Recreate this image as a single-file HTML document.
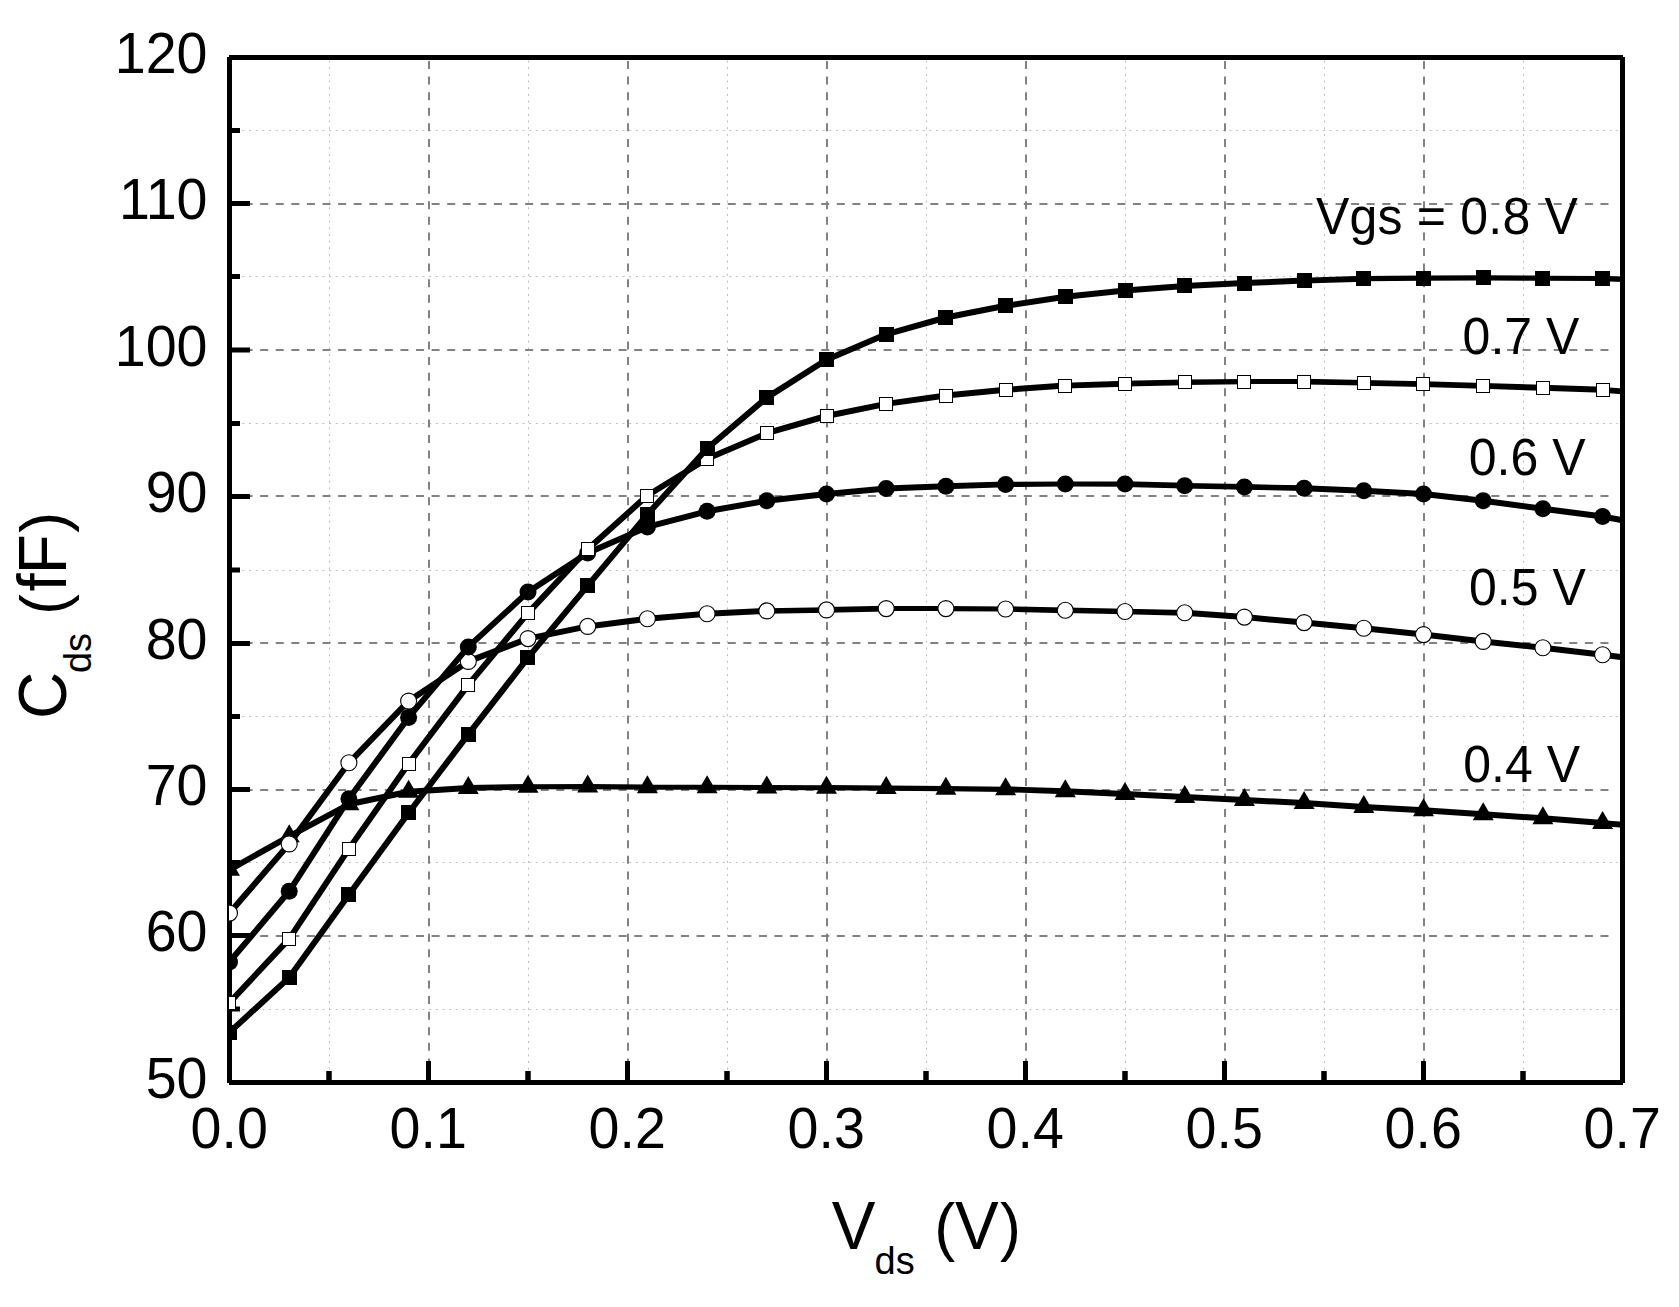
<!DOCTYPE html>
<html lang="en"><head><meta charset="utf-8"><title>Cds vs Vds</title>
<style>
html,body{margin:0;padding:0;background:#fff;}
body{width:1679px;height:1307px;overflow:hidden;}
svg{display:block;}
text{font-family:"Liberation Sans",sans-serif;fill:#000;}
.tk{font-size:55.6px;}
.lb{font-size:50px;}
.tt{font-size:65.5px;}
.sb{font-size:38px;}
.pr{font-size:62.9px;}
</style></head><body>
<svg width="1679" height="1307" viewBox="0 0 1679 1307">
<rect x="0" y="0" width="1679" height="1307" fill="#fff"/>
<defs><clipPath id="plot"><rect x="229.0" y="57.5" width="1394.0" height="1025.0"/></clipPath></defs>
<g id="grid-minor" stroke="#bebebe" stroke-width="1" stroke-dasharray="2 4.67" fill="none">
<line x1="329.5" y1="1083" x2="329.5" y2="60"/>
<line x1="528.5" y1="1083" x2="528.5" y2="60"/>
<line x1="727.5" y1="1083" x2="727.5" y2="60"/>
<line x1="926.5" y1="1083" x2="926.5" y2="60"/>
<line x1="1125.5" y1="1083" x2="1125.5" y2="60"/>
<line x1="1324.5" y1="1083" x2="1324.5" y2="60"/>
<line x1="1523.5" y1="1083" x2="1523.5" y2="60"/>
<line x1="229" y1="1009.5" x2="1618" y2="1009.5"/>
<line x1="229" y1="862.5" x2="1618" y2="862.5"/>
<line x1="229" y1="716.5" x2="1618" y2="716.5"/>
<line x1="229" y1="570.5" x2="1618" y2="570.5"/>
<line x1="229" y1="423.5" x2="1618" y2="423.5"/>
<line x1="229" y1="276.5" x2="1618" y2="276.5"/>
<line x1="229" y1="130.5" x2="1618" y2="130.5"/>
</g>
<g id="grid-major" stroke="#828282" stroke-width="2" stroke-dasharray="8 7.585" fill="none">
<line x1="429" y1="1082" x2="429" y2="60"/>
<line x1="628" y1="1082" x2="628" y2="60"/>
<line x1="827" y1="1082" x2="827" y2="60"/>
<line x1="1026" y1="1082" x2="1026" y2="60"/>
<line x1="1225" y1="1082" x2="1225" y2="60"/>
<line x1="1424" y1="1082" x2="1424" y2="60"/>
<line x1="229" y1="936" x2="1612" y2="936"/>
<line x1="229" y1="790" x2="1612" y2="790"/>
<line x1="229" y1="643" x2="1612" y2="643"/>
<line x1="229" y1="496" x2="1612" y2="496"/>
<line x1="229" y1="350" x2="1612" y2="350"/>
<line x1="229" y1="204" x2="1612" y2="204"/>
</g>
<g id="axes" fill="#000">
<rect x="229" y="55" width="1394" height="5"/>
<rect x="229" y="1080" width="1394" height="5"/>
<rect x="227" y="57" width="5" height="1026"/>
<rect x="1620" y="57" width="5" height="1026"/>
<rect x="426" y="1061" width="5" height="20"/>
<rect x="625" y="1061" width="5" height="20"/>
<rect x="824" y="1061" width="5" height="20"/>
<rect x="1023" y="1061" width="5" height="20"/>
<rect x="1222" y="1061" width="5" height="20"/>
<rect x="1421" y="1061" width="5" height="20"/>
<rect x="326.25" y="1071" width="5.5" height="10"/>
<rect x="525.25" y="1071" width="5.5" height="10"/>
<rect x="724.25" y="1071" width="5.5" height="10"/>
<rect x="923.25" y="1071" width="5.5" height="10"/>
<rect x="1122.25" y="1071" width="5.5" height="10"/>
<rect x="1321.25" y="1071" width="5.5" height="10"/>
<rect x="1520.25" y="1071" width="5.5" height="10"/>
<rect x="231" y="933" width="19" height="5"/>
<rect x="231" y="787" width="19" height="5"/>
<rect x="231" y="641" width="19" height="5"/>
<rect x="231" y="494" width="19" height="5"/>
<rect x="231" y="347.5" width="19" height="5"/>
<rect x="231" y="201" width="19" height="5"/>
<rect x="231" y="1006.5" width="9" height="5"/>
<rect x="231" y="860" width="9" height="5"/>
<rect x="231" y="714" width="9" height="5"/>
<rect x="231" y="567.5" width="9" height="5"/>
<rect x="231" y="421" width="9" height="5"/>
<rect x="231" y="274" width="9" height="5"/>
<rect x="231" y="128" width="9" height="5"/>
</g>
<g id="curves" clip-path="url(#plot)">
<g id="s-0p4"><g fill="none" stroke="#000" stroke-linecap="round"><line x1="229.5" y1="869.8" x2="289.2" y2="836.3" stroke-width="6.00"/><line x1="289.2" y1="836.3" x2="348.9" y2="804.3" stroke-width="6.00"/><line x1="348.9" y1="804.3" x2="408.6" y2="791.8" stroke-width="6.00"/><line x1="408.6" y1="791.8" x2="468.3" y2="787.9" stroke-width="6.00"/><line x1="468.3" y1="787.9" x2="528.0" y2="786.8" stroke-width="5.59"/><line x1="528.0" y1="786.8" x2="587.7" y2="786.6" stroke-width="5.07"/><line x1="587.7" y1="786.6" x2="647.4" y2="787.2" stroke-width="5.29"/><line x1="647.4" y1="787.2" x2="707.1" y2="787.2" stroke-width="5.00"/><line x1="707.1" y1="787.2" x2="766.8" y2="787.5" stroke-width="5.15"/><line x1="766.8" y1="787.5" x2="826.5" y2="787.7" stroke-width="5.07"/><line x1="826.5" y1="787.7" x2="886.2" y2="788.1" stroke-width="5.22"/><line x1="886.2" y1="788.1" x2="945.9" y2="788.7" stroke-width="5.29"/><line x1="945.9" y1="788.7" x2="1005.6" y2="789.3" stroke-width="5.29"/><line x1="1005.6" y1="789.3" x2="1065.3" y2="791.2" stroke-width="5.95"/><line x1="1065.3" y1="791.2" x2="1125.0" y2="794.1" stroke-width="6.00"/><line x1="1125.0" y1="794.1" x2="1184.7" y2="797.0" stroke-width="6.00"/><line x1="1184.7" y1="797.0" x2="1244.4" y2="800.1" stroke-width="6.00"/><line x1="1244.4" y1="800.1" x2="1304.1" y2="803.0" stroke-width="6.00"/><line x1="1304.1" y1="803.0" x2="1363.8" y2="807.0" stroke-width="6.00"/><line x1="1363.8" y1="807.0" x2="1423.5" y2="810.2" stroke-width="6.00"/><line x1="1423.5" y1="810.2" x2="1483.2" y2="814.2" stroke-width="6.00"/><line x1="1483.2" y1="814.2" x2="1542.9" y2="818.3" stroke-width="6.00"/><line x1="1542.9" y1="818.3" x2="1602.6" y2="823.1" stroke-width="6.00"/><line x1="1602.6" y1="823.1" x2="1622.5" y2="824.8" stroke-width="5.88"/></g><polygon points="229.5,857.8 219.0,875.8 240.0,875.8" fill="#000"/><polygon points="289.2,824.3 278.7,842.3 299.7,842.3" fill="#000"/><polygon points="348.9,792.3 338.4,810.3 359.4,810.3" fill="#000"/><polygon points="408.6,779.8 398.1,797.8 419.1,797.8" fill="#000"/><polygon points="468.3,775.9 457.8,793.9 478.8,793.9" fill="#000"/><polygon points="528.0,774.8 517.5,792.8 538.5,792.8" fill="#000"/><polygon points="587.7,774.6 577.2,792.6 598.2,792.6" fill="#000"/><polygon points="647.4,775.2 636.9,793.2 657.9,793.2" fill="#000"/><polygon points="707.1,775.2 696.6,793.2 717.6,793.2" fill="#000"/><polygon points="766.8,775.5 756.3,793.5 777.3,793.5" fill="#000"/><polygon points="826.5,775.7 816.0,793.7 837.0,793.7" fill="#000"/><polygon points="886.2,776.1 875.7,794.1 896.7,794.1" fill="#000"/><polygon points="945.9,776.7 935.4,794.7 956.4,794.7" fill="#000"/><polygon points="1005.6,777.3 995.1,795.3 1016.1,795.3" fill="#000"/><polygon points="1065.3,779.2 1054.8,797.2 1075.8,797.2" fill="#000"/><polygon points="1125.0,782.1 1114.5,800.1 1135.5,800.1" fill="#000"/><polygon points="1184.7,785.0 1174.2,803.0 1195.2,803.0" fill="#000"/><polygon points="1244.4,788.1 1233.9,806.1 1254.9,806.1" fill="#000"/><polygon points="1304.1,791.0 1293.6,809.0 1314.6,809.0" fill="#000"/><polygon points="1363.8,795.0 1353.3,813.0 1374.3,813.0" fill="#000"/><polygon points="1423.5,798.2 1413.0,816.2 1434.0,816.2" fill="#000"/><polygon points="1483.2,802.2 1472.7,820.2 1493.7,820.2" fill="#000"/><polygon points="1542.9,806.3 1532.4,824.3 1553.4,824.3" fill="#000"/><polygon points="1602.6,811.1 1592.1,829.1 1613.1,829.1" fill="#000"/></g>
<g id="s-0p5"><g fill="none" stroke="#000" stroke-linecap="round"><line x1="229.5" y1="913.1" x2="289.2" y2="843.9" stroke-width="6.00"/><line x1="289.2" y1="843.9" x2="348.9" y2="762.8" stroke-width="6.00"/><line x1="348.9" y1="762.8" x2="408.6" y2="701.1" stroke-width="6.00"/><line x1="408.6" y1="701.1" x2="468.3" y2="661.4" stroke-width="6.00"/><line x1="468.3" y1="661.4" x2="528.0" y2="638.6" stroke-width="6.00"/><line x1="528.0" y1="638.6" x2="587.7" y2="626.4" stroke-width="6.00"/><line x1="587.7" y1="626.4" x2="647.4" y2="618.8" stroke-width="6.00"/><line x1="647.4" y1="618.8" x2="707.1" y2="613.7" stroke-width="6.00"/><line x1="707.1" y1="613.7" x2="766.8" y2="610.9" stroke-width="6.00"/><line x1="766.8" y1="610.9" x2="826.5" y2="609.9" stroke-width="5.51"/><line x1="826.5" y1="609.9" x2="886.2" y2="608.6" stroke-width="5.66"/><line x1="886.2" y1="608.6" x2="945.9" y2="608.6" stroke-width="5.00"/><line x1="945.9" y1="608.6" x2="1005.6" y2="609.0" stroke-width="5.22"/><line x1="1005.6" y1="609.0" x2="1065.3" y2="610.3" stroke-width="5.66"/><line x1="1065.3" y1="610.3" x2="1125.0" y2="611.5" stroke-width="5.59"/><line x1="1125.0" y1="611.5" x2="1184.7" y2="612.8" stroke-width="5.66"/><line x1="1184.7" y1="612.8" x2="1244.4" y2="617.1" stroke-width="6.00"/><line x1="1244.4" y1="617.1" x2="1304.1" y2="622.6" stroke-width="6.00"/><line x1="1304.1" y1="622.6" x2="1363.8" y2="628.2" stroke-width="6.00"/><line x1="1363.8" y1="628.2" x2="1423.5" y2="634.6" stroke-width="6.00"/><line x1="1423.5" y1="634.6" x2="1483.2" y2="641.4" stroke-width="6.00"/><line x1="1483.2" y1="641.4" x2="1542.9" y2="647.7" stroke-width="6.00"/><line x1="1542.9" y1="647.7" x2="1602.6" y2="654.8" stroke-width="6.00"/><line x1="1602.6" y1="654.8" x2="1622.5" y2="657.3" stroke-width="6.00"/></g><circle cx="229.5" cy="913.1" r="8" fill="#fff" stroke="#000" stroke-width="1.1"/><circle cx="289.2" cy="843.9" r="8" fill="#fff" stroke="#000" stroke-width="1.1"/><circle cx="348.9" cy="762.8" r="8" fill="#fff" stroke="#000" stroke-width="1.1"/><circle cx="408.6" cy="701.1" r="8" fill="#fff" stroke="#000" stroke-width="1.1"/><circle cx="468.3" cy="661.4" r="8" fill="#fff" stroke="#000" stroke-width="1.1"/><circle cx="528.0" cy="638.6" r="8" fill="#fff" stroke="#000" stroke-width="1.1"/><circle cx="587.7" cy="626.4" r="8" fill="#fff" stroke="#000" stroke-width="1.1"/><circle cx="647.4" cy="618.8" r="8" fill="#fff" stroke="#000" stroke-width="1.1"/><circle cx="707.1" cy="613.7" r="8" fill="#fff" stroke="#000" stroke-width="1.1"/><circle cx="766.8" cy="610.9" r="8" fill="#fff" stroke="#000" stroke-width="1.1"/><circle cx="826.5" cy="609.9" r="8" fill="#fff" stroke="#000" stroke-width="1.1"/><circle cx="886.2" cy="608.6" r="8" fill="#fff" stroke="#000" stroke-width="1.1"/><circle cx="945.9" cy="608.6" r="8" fill="#fff" stroke="#000" stroke-width="1.1"/><circle cx="1005.6" cy="609.0" r="8" fill="#fff" stroke="#000" stroke-width="1.1"/><circle cx="1065.3" cy="610.3" r="8" fill="#fff" stroke="#000" stroke-width="1.1"/><circle cx="1125.0" cy="611.5" r="8" fill="#fff" stroke="#000" stroke-width="1.1"/><circle cx="1184.7" cy="612.8" r="8" fill="#fff" stroke="#000" stroke-width="1.1"/><circle cx="1244.4" cy="617.1" r="8" fill="#fff" stroke="#000" stroke-width="1.1"/><circle cx="1304.1" cy="622.6" r="8" fill="#fff" stroke="#000" stroke-width="1.1"/><circle cx="1363.8" cy="628.2" r="8" fill="#fff" stroke="#000" stroke-width="1.1"/><circle cx="1423.5" cy="634.6" r="8" fill="#fff" stroke="#000" stroke-width="1.1"/><circle cx="1483.2" cy="641.4" r="8" fill="#fff" stroke="#000" stroke-width="1.1"/><circle cx="1542.9" cy="647.7" r="8" fill="#fff" stroke="#000" stroke-width="1.1"/><circle cx="1602.6" cy="654.8" r="8" fill="#fff" stroke="#000" stroke-width="1.1"/></g>
<g id="s-0p6"><g fill="none" stroke="#000" stroke-linecap="round"><line x1="229.5" y1="961.9" x2="289.2" y2="891.3" stroke-width="6.00"/><line x1="289.2" y1="891.3" x2="348.9" y2="798.8" stroke-width="6.00"/><line x1="348.9" y1="798.8" x2="408.6" y2="717.4" stroke-width="6.00"/><line x1="408.6" y1="717.4" x2="468.3" y2="646.9" stroke-width="6.00"/><line x1="468.3" y1="646.9" x2="528.0" y2="591.9" stroke-width="6.00"/><line x1="528.0" y1="591.9" x2="587.7" y2="552.9" stroke-width="6.00"/><line x1="587.7" y1="552.9" x2="647.4" y2="526.9" stroke-width="6.00"/><line x1="647.4" y1="526.9" x2="707.1" y2="511.3" stroke-width="6.00"/><line x1="707.1" y1="511.3" x2="766.8" y2="500.7" stroke-width="6.00"/><line x1="766.8" y1="500.7" x2="826.5" y2="493.9" stroke-width="6.00"/><line x1="826.5" y1="493.9" x2="886.2" y2="488.6" stroke-width="6.00"/><line x1="886.2" y1="488.6" x2="945.9" y2="486.2" stroke-width="6.00"/><line x1="945.9" y1="486.2" x2="1005.6" y2="484.4" stroke-width="5.88"/><line x1="1005.6" y1="484.4" x2="1065.3" y2="484.0" stroke-width="5.22"/><line x1="1065.3" y1="484.0" x2="1125.0" y2="484.1" stroke-width="5.07"/><line x1="1125.0" y1="484.1" x2="1184.7" y2="485.7" stroke-width="5.81"/><line x1="1184.7" y1="485.7" x2="1244.4" y2="486.9" stroke-width="5.59"/><line x1="1244.4" y1="486.9" x2="1304.1" y2="488.2" stroke-width="5.66"/><line x1="1304.1" y1="488.2" x2="1363.8" y2="490.7" stroke-width="6.00"/><line x1="1363.8" y1="490.7" x2="1423.5" y2="493.9" stroke-width="6.00"/><line x1="1423.5" y1="493.9" x2="1483.2" y2="500.7" stroke-width="6.00"/><line x1="1483.2" y1="500.7" x2="1542.9" y2="508.7" stroke-width="6.00"/><line x1="1542.9" y1="508.7" x2="1602.6" y2="516.5" stroke-width="6.00"/><line x1="1602.6" y1="516.5" x2="1622.5" y2="520.3" stroke-width="6.00"/></g><circle cx="229.5" cy="961.9" r="8.5" fill="#000"/><circle cx="289.2" cy="891.3" r="8.5" fill="#000"/><circle cx="348.9" cy="798.8" r="8.5" fill="#000"/><circle cx="408.6" cy="717.4" r="8.5" fill="#000"/><circle cx="468.3" cy="646.9" r="8.5" fill="#000"/><circle cx="528.0" cy="591.9" r="8.5" fill="#000"/><circle cx="587.7" cy="552.9" r="8.5" fill="#000"/><circle cx="647.4" cy="526.9" r="8.5" fill="#000"/><circle cx="707.1" cy="511.3" r="8.5" fill="#000"/><circle cx="766.8" cy="500.7" r="8.5" fill="#000"/><circle cx="826.5" cy="493.9" r="8.5" fill="#000"/><circle cx="886.2" cy="488.6" r="8.5" fill="#000"/><circle cx="945.9" cy="486.2" r="8.5" fill="#000"/><circle cx="1005.6" cy="484.4" r="8.5" fill="#000"/><circle cx="1065.3" cy="484.0" r="8.5" fill="#000"/><circle cx="1125.0" cy="484.1" r="8.5" fill="#000"/><circle cx="1184.7" cy="485.7" r="8.5" fill="#000"/><circle cx="1244.4" cy="486.9" r="8.5" fill="#000"/><circle cx="1304.1" cy="488.2" r="8.5" fill="#000"/><circle cx="1363.8" cy="490.7" r="8.5" fill="#000"/><circle cx="1423.5" cy="493.9" r="8.5" fill="#000"/><circle cx="1483.2" cy="500.7" r="8.5" fill="#000"/><circle cx="1542.9" cy="508.7" r="8.5" fill="#000"/><circle cx="1602.6" cy="516.5" r="8.5" fill="#000"/></g>
<g id="s-0p7"><g fill="none" stroke="#000" stroke-linecap="round"><line x1="229.5" y1="1002.6" x2="289.2" y2="938.9" stroke-width="6.00"/><line x1="289.2" y1="938.9" x2="348.9" y2="848.9" stroke-width="6.00"/><line x1="348.9" y1="848.9" x2="408.6" y2="763.8" stroke-width="6.00"/><line x1="408.6" y1="763.8" x2="468.3" y2="684.9" stroke-width="6.00"/><line x1="468.3" y1="684.9" x2="528.0" y2="613.1" stroke-width="6.00"/><line x1="528.0" y1="613.1" x2="587.7" y2="549.3" stroke-width="6.00"/><line x1="587.7" y1="549.3" x2="647.4" y2="495.5" stroke-width="6.00"/><line x1="647.4" y1="495.5" x2="707.1" y2="458.8" stroke-width="6.00"/><line x1="707.1" y1="458.8" x2="766.8" y2="433.2" stroke-width="6.00"/><line x1="766.8" y1="433.2" x2="826.5" y2="416.0" stroke-width="6.00"/><line x1="826.5" y1="416.0" x2="886.2" y2="403.9" stroke-width="6.00"/><line x1="886.2" y1="403.9" x2="945.9" y2="395.5" stroke-width="6.00"/><line x1="945.9" y1="395.5" x2="1005.6" y2="389.8" stroke-width="6.00"/><line x1="1005.6" y1="389.8" x2="1065.3" y2="385.6" stroke-width="6.00"/><line x1="1065.3" y1="385.6" x2="1125.0" y2="383.7" stroke-width="5.95"/><line x1="1125.0" y1="383.7" x2="1184.7" y2="382.3" stroke-width="5.66"/><line x1="1184.7" y1="382.3" x2="1244.4" y2="381.6" stroke-width="5.37"/><line x1="1244.4" y1="381.6" x2="1304.1" y2="381.6" stroke-width="5.00"/><line x1="1304.1" y1="381.6" x2="1363.8" y2="382.8" stroke-width="5.59"/><line x1="1363.8" y1="382.8" x2="1423.5" y2="384.1" stroke-width="5.66"/><line x1="1423.5" y1="384.1" x2="1483.2" y2="385.9" stroke-width="5.88"/><line x1="1483.2" y1="385.9" x2="1542.9" y2="387.8" stroke-width="5.95"/><line x1="1542.9" y1="387.8" x2="1602.6" y2="389.8" stroke-width="6.00"/><line x1="1602.6" y1="389.8" x2="1622.5" y2="391.3" stroke-width="5.73"/></g><rect x="222.5" y="996.5" width="13" height="13" fill="#fff" stroke="#000" stroke-width="1"/><rect x="282.5" y="932.5" width="13" height="13" fill="#fff" stroke="#000" stroke-width="1"/><rect x="342.5" y="842.5" width="13" height="13" fill="#fff" stroke="#000" stroke-width="1"/><rect x="402.5" y="757.5" width="13" height="13" fill="#fff" stroke="#000" stroke-width="1"/><rect x="461.5" y="678.5" width="13" height="13" fill="#fff" stroke="#000" stroke-width="1"/><rect x="521.5" y="606.5" width="13" height="13" fill="#fff" stroke="#000" stroke-width="1"/><rect x="581.5" y="542.5" width="13" height="13" fill="#fff" stroke="#000" stroke-width="1"/><rect x="640.5" y="489.5" width="13" height="13" fill="#fff" stroke="#000" stroke-width="1"/><rect x="700.5" y="452.5" width="13" height="13" fill="#fff" stroke="#000" stroke-width="1"/><rect x="760.5" y="426.5" width="13" height="13" fill="#fff" stroke="#000" stroke-width="1"/><rect x="820.5" y="409.5" width="13" height="13" fill="#fff" stroke="#000" stroke-width="1"/><rect x="879.5" y="397.5" width="13" height="13" fill="#fff" stroke="#000" stroke-width="1"/><rect x="939.5" y="389.5" width="13" height="13" fill="#fff" stroke="#000" stroke-width="1"/><rect x="999.5" y="383.5" width="13" height="13" fill="#fff" stroke="#000" stroke-width="1"/><rect x="1058.5" y="379.5" width="13" height="13" fill="#fff" stroke="#000" stroke-width="1"/><rect x="1118.5" y="377.5" width="13" height="13" fill="#fff" stroke="#000" stroke-width="1"/><rect x="1178.5" y="375.5" width="13" height="13" fill="#fff" stroke="#000" stroke-width="1"/><rect x="1237.5" y="375.5" width="13" height="13" fill="#fff" stroke="#000" stroke-width="1"/><rect x="1297.5" y="375.5" width="13" height="13" fill="#fff" stroke="#000" stroke-width="1"/><rect x="1357.5" y="376.5" width="13" height="13" fill="#fff" stroke="#000" stroke-width="1"/><rect x="1416.5" y="377.5" width="13" height="13" fill="#fff" stroke="#000" stroke-width="1"/><rect x="1476.5" y="379.5" width="13" height="13" fill="#fff" stroke="#000" stroke-width="1"/><rect x="1536.5" y="381.5" width="13" height="13" fill="#fff" stroke="#000" stroke-width="1"/><rect x="1596.5" y="383.5" width="13" height="13" fill="#fff" stroke="#000" stroke-width="1"/></g>
<g id="s-0p8"><g fill="none" stroke="#000" stroke-linecap="round"><line x1="229.5" y1="1032.3" x2="289.2" y2="977.6" stroke-width="6.00"/><line x1="289.2" y1="977.6" x2="348.9" y2="894.8" stroke-width="6.00"/><line x1="348.9" y1="894.8" x2="408.6" y2="813.0" stroke-width="6.00"/><line x1="408.6" y1="813.0" x2="468.3" y2="734.4" stroke-width="6.00"/><line x1="468.3" y1="734.4" x2="528.0" y2="657.6" stroke-width="6.00"/><line x1="528.0" y1="657.6" x2="587.7" y2="585.6" stroke-width="6.00"/><line x1="587.7" y1="585.6" x2="647.4" y2="514.4" stroke-width="6.00"/><line x1="647.4" y1="514.4" x2="707.1" y2="448.5" stroke-width="6.00"/><line x1="707.1" y1="448.5" x2="766.8" y2="397.6" stroke-width="6.00"/><line x1="766.8" y1="397.6" x2="826.5" y2="359.8" stroke-width="6.00"/><line x1="826.5" y1="359.8" x2="886.2" y2="334.3" stroke-width="6.00"/><line x1="886.2" y1="334.3" x2="945.9" y2="317.5" stroke-width="6.00"/><line x1="945.9" y1="317.5" x2="1005.6" y2="305.8" stroke-width="6.00"/><line x1="1005.6" y1="305.8" x2="1065.3" y2="296.8" stroke-width="6.00"/><line x1="1065.3" y1="296.8" x2="1125.0" y2="290.5" stroke-width="6.00"/><line x1="1125.0" y1="290.5" x2="1184.7" y2="286.0" stroke-width="6.00"/><line x1="1184.7" y1="286.0" x2="1244.4" y2="283.1" stroke-width="6.00"/><line x1="1244.4" y1="283.1" x2="1304.1" y2="280.6" stroke-width="6.00"/><line x1="1304.1" y1="280.6" x2="1363.8" y2="278.7" stroke-width="5.95"/><line x1="1363.8" y1="278.7" x2="1423.5" y2="278.2" stroke-width="5.22"/><line x1="1423.5" y1="278.2" x2="1483.2" y2="277.8" stroke-width="5.22"/><line x1="1483.2" y1="277.8" x2="1542.9" y2="278.2" stroke-width="5.22"/><line x1="1542.9" y1="278.2" x2="1602.6" y2="278.5" stroke-width="5.15"/><line x1="1602.6" y1="278.5" x2="1622.5" y2="279.3" stroke-width="5.37"/></g><rect x="222" y="1025" width="15" height="15" fill="#000"/><rect x="282" y="970" width="15" height="15" fill="#000"/><rect x="341" y="887" width="15" height="15" fill="#000"/><rect x="401" y="805" width="15" height="15" fill="#000"/><rect x="461" y="727" width="15" height="15" fill="#000"/><rect x="520" y="650" width="15" height="15" fill="#000"/><rect x="580" y="578" width="15" height="15" fill="#000"/><rect x="640" y="507" width="15" height="15" fill="#000"/><rect x="700" y="441" width="15" height="15" fill="#000"/><rect x="759" y="390" width="15" height="15" fill="#000"/><rect x="819" y="352" width="15" height="15" fill="#000"/><rect x="879" y="327" width="15" height="15" fill="#000"/><rect x="938" y="310" width="15" height="15" fill="#000"/><rect x="998" y="298" width="15" height="15" fill="#000"/><rect x="1058" y="289" width="15" height="15" fill="#000"/><rect x="1118" y="283" width="15" height="15" fill="#000"/><rect x="1177" y="278" width="15" height="15" fill="#000"/><rect x="1237" y="276" width="15" height="15" fill="#000"/><rect x="1297" y="273" width="15" height="15" fill="#000"/><rect x="1356" y="271" width="15" height="15" fill="#000"/><rect x="1416" y="271" width="15" height="15" fill="#000"/><rect x="1476" y="270" width="15" height="15" fill="#000"/><rect x="1535" y="271" width="15" height="15" fill="#000"/><rect x="1595" y="271" width="15" height="15" fill="#000"/></g>
</g>
<g id="xticklabels">
<text class="tk" text-anchor="middle" transform="translate(229.2,1148.0) scale(1,1.042)">0.0</text>
<text class="tk" text-anchor="middle" transform="translate(428.2,1148.0) scale(1,1.042)">0.1</text>
<text class="tk" text-anchor="middle" transform="translate(627.2,1148.0) scale(1,1.042)">0.2</text>
<text class="tk" text-anchor="middle" transform="translate(826.2,1148.0) scale(1,1.042)">0.3</text>
<text class="tk" text-anchor="middle" transform="translate(1025.2,1148.0) scale(1,1.042)">0.4</text>
<text class="tk" text-anchor="middle" transform="translate(1224.2,1148.0) scale(1,1.042)">0.5</text>
<text class="tk" text-anchor="middle" transform="translate(1423.2,1148.0) scale(1,1.042)">0.6</text>
<text class="tk" text-anchor="middle" transform="translate(1622.2,1148.0) scale(1,1.042)">0.7</text>
</g>
<g id="yticklabels">
<text class="tk" text-anchor="end" transform="translate(207.5,1097.8) scale(1,1.042)">50</text>
<text class="tk" text-anchor="end" transform="translate(207.5,951.4) scale(1,1.042)">60</text>
<text class="tk" text-anchor="end" transform="translate(207.5,804.9) scale(1,1.042)">70</text>
<text class="tk" text-anchor="end" transform="translate(207.5,658.5) scale(1,1.042)">80</text>
<text class="tk" text-anchor="end" transform="translate(207.5,512.1) scale(1,1.042)">90</text>
<text class="tk" text-anchor="end" transform="translate(207.5,365.7) scale(1,1.042)">100</text>
<text class="tk" text-anchor="end" transform="translate(207.5,219.2) scale(1,1.042)">110</text>
<text class="tk" text-anchor="end" transform="translate(207.5,72.8) scale(1,1.042)">120</text>
</g>
<g id="labels">
<text letter-spacing="0.2" class="lb" text-anchor="start" transform="translate(1316.0,234.0) scale(1,1.042)">Vgs = 0.8 V</text>
<text class="lb" text-anchor="start" transform="translate(1462.6,353.7) scale(1,1.042)">0.7 V</text>
<text class="lb" text-anchor="start" transform="translate(1468.8,474.6) scale(1,1.042)">0.6 V</text>
<text class="lb" text-anchor="start" transform="translate(1469.0,605.0) scale(1,1.042)">0.5 V</text>
<text class="lb" text-anchor="start" transform="translate(1463.3,782.0) scale(1,1.042)">0.4 V</text>
</g>
<text id="xtitle" class="tt" transform="translate(831.7,1249) scale(1,1.042)">V<tspan class="sb" x="42.9" dy="24.4">ds</tspan> <tspan class="pr" x="102.5" dy="-24.4">(</tspan><tspan x="123.4">V</tspan><tspan class="pr" x="168.4">)</tspan></text>
<text id="ytitle" class="tt" transform="translate(66.3,719) rotate(-90) scale(1,1.042)">C<tspan class="sb" x="46" dy="23.5">ds</tspan> <tspan class="pr" x="104.1" dy="-23.5">(</tspan><tspan x="127.5">f</tspan><tspan x="144.7">F</tspan><tspan class="pr" x="186.3">)</tspan></text>
</svg>
</body></html>
